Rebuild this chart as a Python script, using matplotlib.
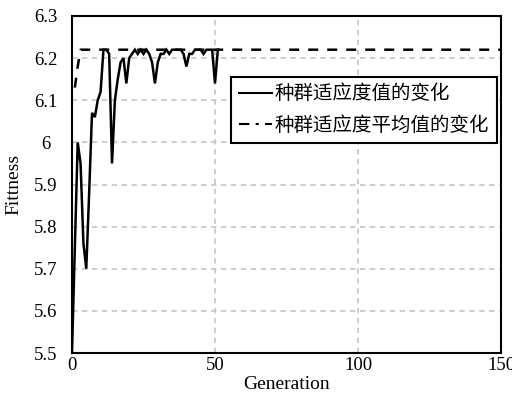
import matplotlib
matplotlib.use("Agg")
import matplotlib.pyplot as plt
from matplotlib.lines import Line2D

# Best fitness per generation (solid line)
gen_best = list(range(0, 52))
best_fit = [5.50, 5.75, 6.00, 5.95, 5.76, 5.70, 5.88, 6.07, 6.06, 6.10,
            6.12, 6.22, 6.22, 6.21, 5.95, 6.10, 6.15, 6.19, 6.20, 6.14,
            6.20, 6.21, 6.22, 6.21, 6.22, 6.21, 6.22, 6.21, 6.19, 6.14,
            6.19, 6.21, 6.21, 6.22, 6.21, 6.22, 6.22, 6.22, 6.22, 6.21,
            6.18, 6.21, 6.21, 6.22, 6.22, 6.22, 6.21, 6.22, 6.22, 6.22,
            6.14, 6.22]

# Average fitness (dashed line)
gen_avg = [1, 2, 3, 150]
avg_fit = [6.13, 6.18, 6.22, 6.22]

x_ticks = [0, 50, 100, 150]
y_ticks = [5.5, 5.6, 5.7, 5.8, 5.9, 6.0, 6.1, 6.2, 6.3]
y_labels = ['5.5', '5.6', '5.7', '5.8', '5.9', '6', '6.1', '6.2', '6.3']
legend_labels = ['种群适应度值的变化', '种群适应度平均值的变化']

plt.rcParams['font.family'] = ['Liberation Serif', 'Noto Sans CJK SC']

fig = plt.figure(figsize=(5.12, 3.97), dpi=100)
ax = fig.add_axes([0.1406, 0.1108, 0.8379, 0.8489])

ax.plot(gen_best, best_fit, color='black', lw=1.8, solid_joinstyle='miter')
ax.plot(gen_avg, avg_fit, color='black', lw=1.8, linestyle=(0, (4, 3.6)))

ax.set_xlim(0, 150)
ax.set_ylim(5.5, 6.3)
ax.set_xticks(x_ticks)
ax.set_xticklabels([str(t) for t in x_ticks])
ax.set_yticks(y_ticks)
ax.set_yticklabels(y_labels)
ax.tick_params(length=0, labelsize=13.5)
ax.tick_params(axis='x', pad=3)
ax.tick_params(axis='y', pad=18.7)
for lab in ax.get_yticklabels():
    lab.set_horizontalalignment('center')
ax.grid(True, color='#c0c0c0', linestyle=(0, (3.5, 3)), lw=1.1)
ax.set_axisbelow(True)
for s in ax.spines.values():
    s.set_linewidth(1.5)
ax.set_xlabel('Generation', fontsize=14, labelpad=1)
ax.set_ylabel('Fittness', fontsize=14)
ax.yaxis.set_label_coords(-0.1166, 0.5)

handles = [Line2D([], [], color='black', lw=1.5),
           Line2D([], [], color='black', lw=1.5, linestyle=(0, (5, 3, 1.5, 3)))]
leg = ax.legend(handles, legend_labels, loc='upper right',
                bbox_to_anchor=(0.9907, 0.819), fontsize=14, frameon=True,
                fancybox=False, edgecolor='black', framealpha=1,
                handlelength=1.7, handletextpad=0.15, borderpad=0.4,
                labelspacing=0.65, borderaxespad=0)
leg.get_frame().set_linewidth(1.5)

fig.savefig('out.png', dpi=100)
